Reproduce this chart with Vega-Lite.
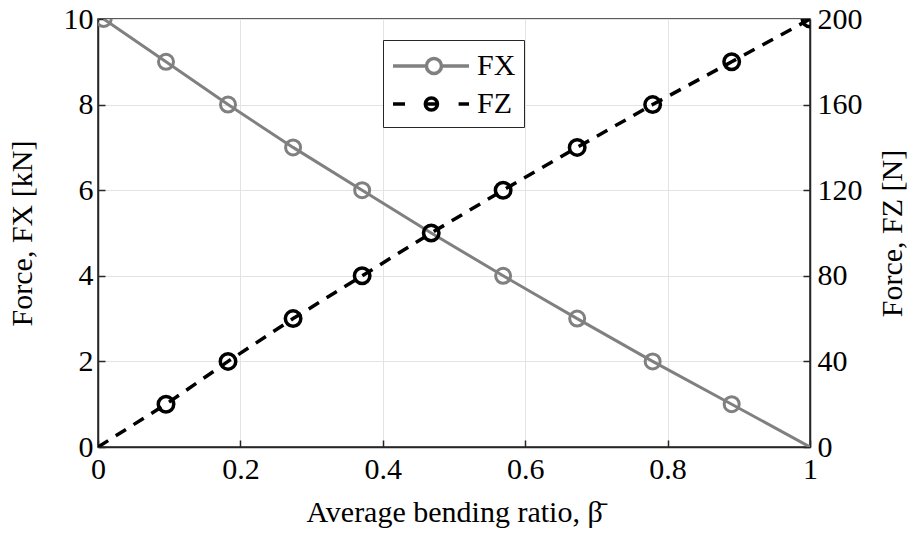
{
  "$schema": "https://vega.github.io/schema/vega-lite/v6.json",
  "width": 712,
  "height": 428,
  "autosize": {"type": "none"},
  "padding": {"left": 98, "top": 19, "right": 101, "bottom": 88},
  "background": "white",
  "config": {
    "view": {"stroke": "#262626", "strokeWidth": 1.5},
    "axis": {
      "labelFont": "Liberation Serif",
      "labelFontSize": 30,
      "titleFont": "Liberation Serif",
      "titleFontSize": 30,
      "titleFontWeight": "normal",
      "labelColor": "#000000",
      "titleColor": "#000000",
      "domainColor": "#262626",
      "domainWidth": 1.5,
      "tickColor": "#262626",
      "tickWidth": 1.5,
      "tickSize": -7,
      "labelPadding": 14,
      "gridColor": "#e3e3e3",
      "gridWidth": 1
    },
    "legend": {
      "labelFont": "Liberation Serif",
      "labelFontSize": 30,
      "labelColor": "#000000"
    }
  },
  "data": {
    "values": [
      {"beta": 0.008, "series": "FX", "value": 10},
      {"beta": 0.0955, "series": "FX", "value": 9},
      {"beta": 0.1826, "series": "FX", "value": 8},
      {"beta": 0.274, "series": "FX", "value": 7},
      {"beta": 0.371, "series": "FX", "value": 6},
      {"beta": 0.468, "series": "FX", "value": 5},
      {"beta": 0.569, "series": "FX", "value": 4},
      {"beta": 0.673, "series": "FX", "value": 3},
      {"beta": 0.779, "series": "FX", "value": 2},
      {"beta": 0.89, "series": "FX", "value": 1},
      {"beta": 1.0, "series": "FX", "value": 0},
      {"beta": 0.0, "series": "FZ", "value": 0},
      {"beta": 0.0955, "series": "FZ", "value": 20},
      {"beta": 0.1826, "series": "FZ", "value": 40},
      {"beta": 0.274, "series": "FZ", "value": 60},
      {"beta": 0.371, "series": "FZ", "value": 80},
      {"beta": 0.468, "series": "FZ", "value": 100},
      {"beta": 0.569, "series": "FZ", "value": 120},
      {"beta": 0.673, "series": "FZ", "value": 140},
      {"beta": 0.779, "series": "FZ", "value": 160},
      {"beta": 0.89, "series": "FZ", "value": 180},
      {"beta": 1.0, "series": "FZ", "value": 200}
    ]
  },
  "encoding": {
    "x": {
      "field": "beta",
      "type": "quantitative",
      "scale": {"domain": [0, 1], "nice": false, "zero": false},
      "axis": {
        "values": [0, 0.2, 0.4, 0.6, 0.8, 1],
        "format": ".1~f",
        "grid": true,
        "labelFlush": false,
        "labelPadding": 14,
        "title": "Average bending ratio, β̄",
        "titlePadding": 13
      }
    }
  },
  "layer": [
    {
      "transform": [{"filter": "datum.series === 'FX'"}],
      "encoding": {
        "y": {
          "field": "value",
          "type": "quantitative",
          "scale": {"domain": [0, 10], "nice": false},
          "axis": {
            "orient": "left",
            "values": [0, 2, 4, 6, 8, 10],
            "grid": true,
            "labelPadding": 12,
            "title": "Force, FX [kN]",
            "titlePadding": 26
          }
        }
      },
      "layer": [
        {
          "mark": {"type": "line", "strokeWidth": 3, "clip": true},
          "encoding": {
            "color": {
              "field": "series",
              "type": "nominal",
              "scale": {"domain": ["FX", "FZ"], "range": ["#808080", "#000000"]},
              "legend": {
                "orient": "none",
                "legendX": 285,
                "legendY": 21,
                "title": null,
                "strokeColor": "#262626",
                "fillColor": "white",
                "padding": 8,
                "rowPadding": 5,
                "symbolSize": 1024,
                "symbolStrokeWidth": 3,
                "labelOffset": 50,
                "encode": {
                  "symbols": {
                    "update": {
                      "shape": {"signal": "datum.value === 'FX' ? 'M-1,0H1.09M2.03,0H3.75M1.09,0A0.47,0.47 0 1,0 2.03,0A0.47,0.47 0 1,0 1.09,0' : 'M-1,0H-0.25M3.1,0H3.75M1.02,0H1.78M1.02,0A0.38,0.38 0 1,0 1.78,0A0.38,0.38 0 1,0 1.02,0'"},
                      "size": {"value": 1024},
                      "strokeWidth": {"value": 3.5},
                      "fill": {"value": "transparent"}
                    }
                  }
                }
              }
            }
          }
        },
        {
          "transform": [{"filter": "datum.value > 0"}],
          "mark": {"type": "point", "shape": "circle", "filled": false, "size": 225, "strokeWidth": 3, "color": "#808080", "opacity": 1, "clip": true}
        }
      ]
    },
    {
      "transform": [{"filter": "datum.series === 'FZ'"}],
      "encoding": {
        "y": {
          "field": "value",
          "type": "quantitative",
          "scale": {"domain": [0, 200], "nice": false},
          "axis": {
            "orient": "right",
            "values": [0, 40, 80, 120, 160, 200],
            "grid": false,
            "title": "Force, FZ [N]",
            "titleAngle": 270,
            "titleBaseline": "top",
            "titlePadding": 15
          }
        }
      },
      "layer": [
        {
          "mark": {"type": "line", "strokeWidth": 3.5, "strokeDash": [12, 9], "clip": true},
          "encoding": {
            "color": {"field": "series", "type": "nominal"}
          }
        },
        {
          "transform": [{"filter": "datum.value > 0"}],
          "mark": {"type": "point", "shape": "circle", "filled": false, "size": 240, "strokeWidth": 3.5, "color": "#000000", "opacity": 1, "clip": true}
        }
      ]
    }
  ],
  "resolve": {"scale": {"y": "independent"}}
}
